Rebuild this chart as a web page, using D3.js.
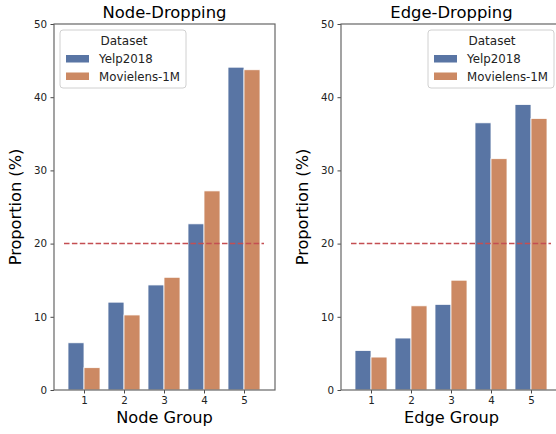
<!DOCTYPE html>
<html>
<head>
<meta charset="utf-8">
<script src="https://cdn.jsdelivr.net/npm/d3@7"></script>
<style>
  body { margin: 0; background: #fff; }
  svg { display: block; font-family: "DejaVu Sans", sans-serif; }
</style>
</head>
<body>
<svg id="chart" width="556" height="434"></svg>
<script>
const groups = ["1", "2", "3", "4", "5"];
const seriesNames = ["Yelp2018", "Movielens-1M"];
const nodeYelp = [6.45, 12.0, 14.35, 22.7, 44.1];
const nodeMovie = [3.05, 10.25, 15.4, 27.2, 43.75];
const edgeYelp = [5.4, 7.1, 11.7, 36.5, 39.0];
const edgeMovie = [4.5, 11.5, 15.0, 31.6, 37.1];
const yTicks = [0, 10, 20, 30, 40, 50];
const threshold = 20;
const colors = ["#5975a4", "#cc8963"];

const panels = [
  { title: "Node-Dropping", xlabel: "Node Group", data: [nodeYelp, nodeMovie],
    left: 54, right: 275, legendX: 60 },
  { title: "Edge-Dropping", xlabel: "Edge Group", data: [edgeYelp, edgeMovie],
    left: 341, right: 562, legendX: 428 }
];
const plotTop = 24, plotBottom = 390;
const svg = d3.select("#chart");
svg.append("rect").attr("width", 556).attr("height", 434).attr("fill", "#fff");

panels.forEach(p => {
  const g = svg.append("g");
  // category index scale: index 0 at left+30, step 40
  const x = d3.scaleLinear().domain([-0.75, 4.775]).range([p.left, p.right]);
  const y = d3.scaleLinear().domain([0, 50]).range([plotBottom, plotTop]);
  const barW = 0.4;

  // bars
  p.data.forEach((vals, si) => {
    g.selectAll(null).data(vals).enter().append("rect")
      .attr("x", (d, i) => x(i - 0.4 + si * barW))
      .attr("width", x(barW) - x(0))
      .attr("y", d => y(d))
      .attr("height", d => y(0) - y(d))
      .attr("fill", colors[si])
      .attr("stroke", "#fff")
      .attr("stroke-width", 0.8);
  });

  // threshold line
  g.append("line")
    .attr("x1", x(-0.5)).attr("x2", x(4.5))
    .attr("y1", y(threshold)).attr("y2", y(threshold))
    .attr("stroke", "#c44e52").attr("stroke-width", 1.5)
    .attr("stroke-dasharray", "5.5,2.4");

  // axes
  const yAxis = d3.axisLeft(y).tickValues(yTicks).tickSize(3.5).tickPadding(3.5);
  const yg = g.append("g").attr("transform", `translate(${p.left},0)`).call(yAxis);
  const xAxis = d3.axisBottom(x).tickValues(d3.range(groups.length))
    .tickFormat(i => groups[i]).tickSize(3.5).tickPadding(3.5);
  const xg = g.append("g").attr("transform", `translate(0,${plotBottom})`).call(xAxis);
  [yg, xg].forEach(a => {
    a.select(".domain").remove();
    a.selectAll("line").attr("stroke", "#333").attr("stroke-width", 0.9);
    a.selectAll("text").attr("font-size", 10.3).attr("fill", "#222")
      .attr("font-family", "DejaVu Sans, sans-serif");
  });

  // spines
  g.append("rect")
    .attr("x", p.left).attr("y", plotTop)
    .attr("width", p.right - p.left).attr("height", plotBottom - plotTop)
    .attr("fill", "none").attr("stroke", "#666").attr("stroke-width", 1.2);

  // title
  g.append("text").attr("x", (p.left + p.right) / 2).attr("y", 17.5)
    .attr("text-anchor", "middle").attr("font-size", 16.4).attr("fill", "#000")
    .text(p.title);
  // x label
  g.append("text").attr("x", (p.left + p.right) / 2).attr("y", 423)
    .attr("text-anchor", "middle").attr("font-size", 16.2).attr("fill", "#000")
    .text(p.xlabel);
  // y label
  g.append("text")
    .attr("transform", `translate(${p.left - 33},${(plotTop + plotBottom) / 2}) rotate(-90)`)
    .attr("text-anchor", "middle").attr("font-size", 16.2).attr("fill", "#000")
    .text("Proportion (%)");

  // legend
  const lg = g.append("g").attr("transform", `translate(${p.legendX},30)`);
  lg.append("rect").attr("width", 126).attr("height", 58).attr("rx", 3)
    .attr("fill", "#fff").attr("fill-opacity", 0.85)
    .attr("stroke", "#d0d0d0").attr("stroke-width", 1);
  lg.append("text").attr("x", 64).attr("y", 15).attr("text-anchor", "middle")
    .attr("font-size", 12).attr("fill", "#222").text("Dataset");
  seriesNames.forEach((name, si) => {
    lg.append("rect").attr("x", 6).attr("y", 25 + si * 17.5)
      .attr("width", 23).attr("height", 7.5).attr("fill", colors[si]);
    lg.append("text").attr("x", 39).attr("y", 33 + si * 17.5)
      .attr("font-size", 11.8).attr("fill", "#222").text(name);
  });
});
</script>
</body>
</html>
